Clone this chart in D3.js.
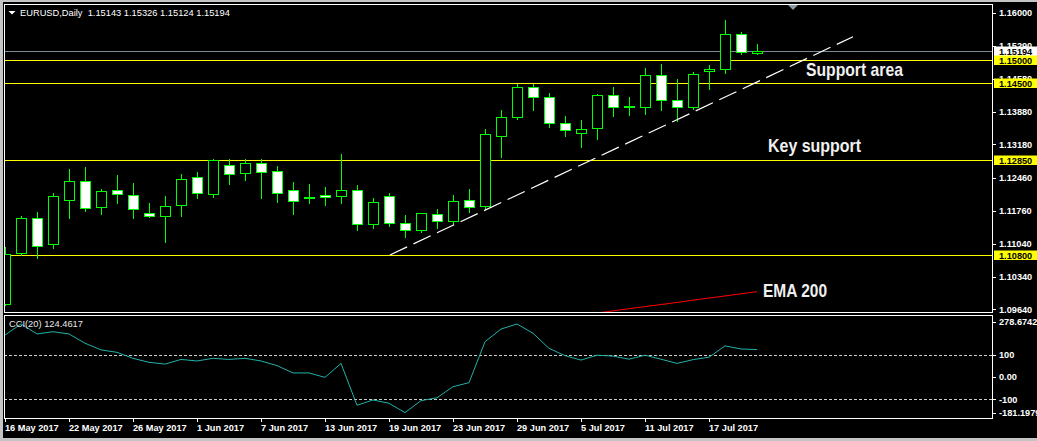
<!DOCTYPE html>
<html><head><meta charset="utf-8">
<script src="https://cdn.jsdelivr.net/npm/d3@7"></script>
<style>
html,body{margin:0;padding:0;background:#000;}
svg{display:block;}
text{font-family:"Liberation Sans",Arial,sans-serif;}
</style></head><body>
<svg id="chart" width="1037" height="441"></svg>
<script>
// ---------- DATA ----------
const dates = ["2017-05-16","2017-05-17","2017-05-18","2017-05-19","2017-05-22","2017-05-23","2017-05-24","2017-05-25","2017-05-26","2017-05-29",
"2017-05-30","2017-05-31","2017-06-01","2017-06-02","2017-06-05","2017-06-06","2017-06-07","2017-06-08","2017-06-09","2017-06-12",
"2017-06-13","2017-06-14","2017-06-15","2017-06-16","2017-06-19","2017-06-20","2017-06-21","2017-06-22","2017-06-23","2017-06-26",
"2017-06-27","2017-06-28","2017-06-29","2017-06-30","2017-07-03","2017-07-04","2017-07-05","2017-07-06","2017-07-07","2017-07-10",
"2017-07-11","2017-07-12","2017-07-13","2017-07-14","2017-07-17","2017-07-18","2017-07-19","2017-07-20"];
const open = [1.09748,1.10842,1.11593,1.11035,1.11980,1.12388,1.11830,1.12194,1.12087,1.11701,
1.11636,1.11872,1.12473,1.12109,1.12731,1.12559,1.12774,1.12602,1.12194,1.12055,
1.12087,1.12066,1.12194,1.11465,1.12066,1.11486,1.11336,1.11679,1.11529,1.11980,
1.11851,1.13366,1.13774,1.14405,1.14191,1.13633,1.13418,1.13525,1.14234,1.13989,
1.13989,1.14663,1.14133,1.13989,1.14749,1.14792,1.15549,1.15143];
const high = [1.10971,1.11643,1.11729,1.12136,1.12652,1.12695,1.12216,1.12523,1.12351,1.11922,
1.12066,1.12544,1.12581,1.12856,1.12860,1.12860,1.12865,1.12716,1.12373,1.12323,
1.12259,1.12974,1.12308,1.12023,1.12130,1.11658,1.11710,1.11787,1.12087,1.12216,
1.13510,1.13918,1.14476,1.14476,1.14276,1.13789,1.13703,1.14261,1.14405,1.14191,
1.14813,1.14905,1.14577,1.14734,1.14884,1.15850,1.15592,1.15326];
const low = [1.09733,1.10799,1.10748,1.10962,1.11606,1.11757,1.11692,1.11928,1.11606,1.11621,
1.11091,1.11649,1.12023,1.12057,1.12336,1.12409,1.12036,1.11950,1.11679,1.11915,
1.11879,1.11915,1.11336,1.11392,1.11435,1.11199,1.11293,1.11392,1.11465,1.11722,
1.11787,1.12916,1.13731,1.13918,1.13560,1.13366,1.13130,1.13302,1.13789,1.13811,
1.13839,1.13918,1.13688,1.13933,1.14362,1.14719,1.15114,1.15124];
const close = [1.10821,1.11593,1.11005,1.12066,1.12388,1.11808,1.12173,1.12109,1.11787,1.11636,
1.11851,1.12431,1.12130,1.12845,1.12538,1.12774,1.12581,1.12130,1.11958,1.12060,
1.12044,1.12194,1.11465,1.11937,1.11486,1.11336,1.11701,1.11529,1.11958,1.11830,
1.13396,1.13761,1.14405,1.14203,1.13633,1.13482,1.13504,1.14234,1.13989,1.13995,
1.14663,1.14126,1.13976,1.14691,1.14792,1.15549,1.15156,1.15194];
const cci = [190,240,195,205,195,153,123,112,85,67,
59,80,73,85,80,85,73,52,19,19,
-1,62,-127,-103,-118,-160,-106,-93,-43,-25,
160,217,240,198,130,97,77,99,95,81,
99,81,62,79,90,141,127,124.4617];
const emaStart = 36;
const ema200 = [1.09515,1.09561,1.09606,1.09653,1.09698,1.09743,1.09788,1.09836,1.09881,1.09926,1.09973,1.10018];
const priceTicks = [1.16000,1.15290,1.14580,1.13880,1.13180,1.12460,1.11760,1.11040,1.10340,1.09640];
const levels = [1.15000,1.14500,1.12850,1.10800];
const bid = 1.15194;
const cciLevels = [100,-100];
const cciTicks = [278.6742,100,0,-100,-181.1979];
const cciTickLabels = ["278.6742","100","0.00","-100","-181.1979"];
const trendIdx = [24.06,53.0];
const trendPrice = [1.10806,1.15491];
const noteText = ["Support area","Key support","EMA 200"];
const noteIdx = [50.06,47.69,47.375];
const notePrice = [1.14648,1.13017,1.09894];
const title = "EURUSD,Daily  1.15143 1.15326 1.15124 1.15194";
const cciTitle = "CCI(20) 124.4617";

// ---------- LAYOUT ----------
const svg = d3.select("#chart");
const L = 4, R = 992, T = 4, MB = 312, CT = 315, CB = 418;
const x = d3.scaleLinear().domain([0,47]).range([5,757]);
const y = d3.scaleLinear().domain([1.0964,1.16]).range([309.3,13]);
const cy = d3.scaleLinear().domain([-181.1979,278.6742]).range([417.3,315.4]);
const cr = v => Math.round(v)+0.5;
const fmtDate = d3.timeFormat("%-d %b %Y");
const parse = d3.timeParse("%Y-%m-%d");

// backgrounds
svg.append("rect").attr("width",1037).attr("height",441).attr("fill","#c4c4c4");
svg.append("rect").attr("x",3).attr("y",2).attr("width",1034).attr("height",436).attr("fill","#000");

const defs = svg.append("defs");
defs.append("clipPath").attr("id","mainClip").append("rect").attr("x",L+1).attr("y",T+1).attr("width",R-L-1).attr("height",MB-T-1);
defs.append("clipPath").attr("id","cciClip").append("rect").attr("x",L+1).attr("y",CT+1).attr("width",R-L-1).attr("height",CB-CT-1);

const main = svg.append("g").attr("clip-path","url(#mainClip)");

// horizontal levels
main.selectAll("line.lvl").data(levels).join("line")
  .attr("x1",L).attr("x2",R).attr("y1",d=>cr(y(d))).attr("y2",d=>cr(y(d)))
  .attr("stroke","#ffff00").attr("stroke-width",1);
main.append("line").attr("x1",L).attr("x2",R).attr("y1",cr(y(bid))).attr("y2",cr(y(bid)))
  .attr("stroke","#778899").attr("stroke-width",1);

// EMA 200
main.append("path")
  .datum(ema200.map((v,k)=>[emaStart+k,v]))
  .attr("d",d3.line().x(d=>x(d[0])).y(d=>y(d[1])))
  .attr("fill","none").attr("stroke","#ff0000").attr("stroke-width",1);

// candles
const idx = d3.range(dates.length);
const cg = main.append("g");
idx.forEach(i=>{
  const c = Math.round(x(i));
  const bull = close[i] >= open[i];
  cg.append("line").attr("x1",c+0.5).attr("x2",c+0.5)
    .attr("y1",Math.round(y(high[i]))).attr("y2",Math.round(y(low[i]))+1)
    .attr("stroke","#00ff00").attr("stroke-width",1);
  const top = Math.round(y(Math.max(open[i],close[i])));
  const bot = Math.round(y(Math.min(open[i],close[i])));
  cg.append("rect").attr("x",c-4.5).attr("y",top+0.5).attr("width",10).attr("height",Math.max(bot-top,1))
    .attr("fill",bull?"#000":"#fff").attr("stroke","#00ff00").attr("stroke-width",1);
});

// trend line
main.append("line")
  .attr("x1",x(trendIdx[0])).attr("y1",y(trendPrice[0]))
  .attr("x2",x(trendIdx[1])).attr("y2",y(trendPrice[1]))
  .attr("stroke","#fff").attr("stroke-width",1.2).attr("stroke-dasharray","19,7");

// annotations
const noteW = [97,93,64];
noteText.forEach((t,k)=>{
  svg.append("text").attr("x",x(noteIdx[k])).attr("y",y(notePrice[k]))
    .attr("font-size",19).attr("font-weight","bold").attr("fill","#f0f0f0")
    .attr("textLength",noteW[k]).attr("lengthAdjust","spacingAndGlyphs").text(t);
});

// chart shift marker
svg.append("path").attr("d","M788,5L798,5L793,10Z").attr("fill","#8c96a0");

// title
svg.append("path").attr("d","M8.5,11L15.5,11L12,14.5Z").attr("fill","#fff");
svg.append("text").attr("x",20).attr("y",16).attr("font-size",9.3).attr("fill","#fff")
  .attr("xml:space","preserve").style("white-space","pre").text(title);

// ---------- CCI panel ----------
const cg2 = svg.append("g").attr("clip-path","url(#cciClip)");
cg2.selectAll("line.cl").data(cciLevels).join("line")
  .attr("x1",L).attr("x2",R).attr("y1",d=>cr(cy(d))).attr("y2",d=>cr(cy(d)))
  .attr("stroke","#d0d0d0").attr("stroke-dasharray","3,2");
cg2.append("path").datum(cci)
  .attr("d",d3.line().x((d,i)=>x(i)).y(d=>cy(d)))
  .attr("fill","none").attr("stroke","#20b2aa").attr("stroke-width",1);
svg.append("text").attr("x",9).attr("y",327).attr("font-size",9.3).attr("fill","#e8e8e8").text(cciTitle);

// frames
svg.append("rect").attr("x",L+0.5).attr("y",T+0.5).attr("width",R-L).attr("height",MB-T)
  .attr("fill","none").attr("stroke","#fff");
svg.append("rect").attr("x",L+0.5).attr("y",CT+0.5).attr("width",R-L).attr("height",CB-CT)
  .attr("fill","none").attr("stroke","#fff");

// price axis
const ax = svg.append("g");
priceTicks.forEach(p=>{
  const yy = y(p);
  ax.append("line").attr("x1",R).attr("x2",R+4).attr("y1",cr(yy)).attr("y2",cr(yy)).attr("stroke","#fff");
  ax.append("text").attr("x",999).attr("y",yy).attr("dy","0.35em").attr("font-size",9.2)
    .attr("font-weight","bold").attr("fill","#fff").text(p.toFixed(5));
});
// level boxes
const boxes = [{p:bid,fill:"#ffffff"}].concat(levels.map(p=>({p,fill:"#ffff00"})));
boxes.forEach(b=>{
  const yy = Math.round(y(b.p));
  ax.append("rect").attr("x",994).attr("y",yy-4.5).attr("width",43).attr("height",9.5).attr("fill",b.fill);
  ax.append("text").attr("x",999).attr("y",yy+0.5).attr("dy","0.35em").attr("font-size",9.2)
    .attr("font-weight","bold").attr("fill","#000").text(b.p.toFixed(5));
});

// CCI axis
cciTicks.forEach((v,k)=>{
  let yy = cy(v);
  yy = Math.max(yy, CT+7); yy = Math.min(yy, CB-5.5);
  ax.append("line").attr("x1",R).attr("x2",R+4).attr("y1",cr(yy)).attr("y2",cr(yy)).attr("stroke","#fff");
  ax.append("text").attr("x",999).attr("y",yy).attr("dy","0.35em").attr("font-size",9.2)
    .attr("font-weight","bold").attr("fill","#fff").text(cciTickLabels[k]);
});

// date axis
idx.filter(i=>i%4===0).forEach(i=>{
  const xx = Math.round(x(i))+0.5;
  ax.append("line").attr("x1",xx).attr("x2",xx).attr("y1",CB).attr("y2",CB+4).attr("stroke","#fff");
  ax.append("text").attr("x",xx-0.5).attr("y",430.5).attr("font-size",9.2)
    .attr("font-weight","bold").attr("fill","#fff").text(fmtDate(parse(dates[i])));
});
</script>
</body></html>
